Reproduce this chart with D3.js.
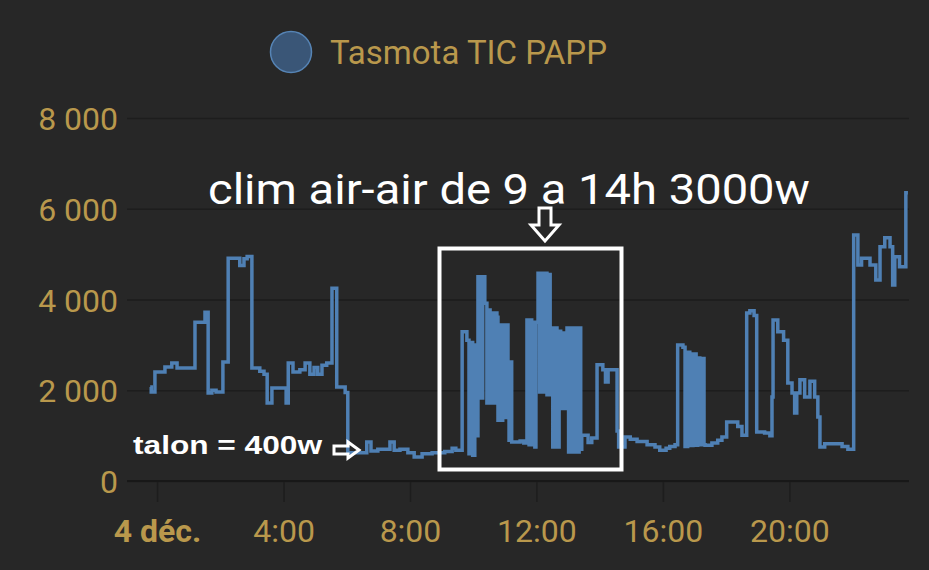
<!DOCTYPE html>
<html>
<head>
<meta charset="utf-8">
<script src="https://cdn.jsdelivr.net/npm/d3@7"></script>
<style>
  html, body { margin: 0; padding: 0; background: #272727; }
  svg { display: block; }
</style>
</head>
<body>
<svg id="chart" width="929" height="570"></svg>
<script>
// ---- Data (minutes from midnight 4 Dec, power in W) ----
const seriesName = "Tasmota TIC PAPP";
const minutes = [
  -13, -11, -4, 15, 28, 38, 72, 91, 97, 104, 112, 125, 135, 157, 165, 171, 180, 195, 203, 209,
  218, 239, 245, 249, 258, 271, 281, 290, 298, 305, 313, 322, 332, 341, 357, 362, 385, 398, 406, 419,
  442, 450, 461, 476, 488, 503, 522, 546, 560, 567,
  579, 588, 592, 596, 599, 603, 607, 609, 613, 615, 617, 618, 622, 626, 628, 632, 634, 637, 641, 645,
  647, 651, 653, 656, 658, 662, 666, 668, 670, 673, 689, 696, 702, 706, 708, 711, 713, 717, 719, 723,
  726, 730, 732, 736, 740, 742, 746, 750, 751, 755, 759, 763, 766, 770, 774, 778, 781, 785, 789, 793,
  797, 801, 804, 806, 818, 825, 835, 846, 851, 856, 863, 873, 876,
  888, 898, 911, 930, 945, 954, 966, 973, 983, 988, 998, 1002, 1007, 1011, 1017, 1023, 1026, 1030, 1034, 1038,
  1040, 1053, 1064, 1072, 1081, 1097, 1102, 1110, 1119, 1125, 1133, 1138, 1153, 1163, 1167, 1169, 1178, 1189, 1197, 1205,
  1210, 1214, 1220, 1229, 1239, 1248, 1254, 1258, 1267, 1286, 1300, 1311, 1322, 1330, 1337, 1353, 1364, 1372, 1381, 1391,
  1396, 1400, 1409, 1421, 1425
];
const values = [
  2070, 1960, 2400, 2510, 2600, 2490, 3500, 3720, 1940, 2000, 1960, 2620, 4910, 4750, 4900, 4950, 2490, 2420, 2350, 1720,
  2050, 2050, 1720, 2600, 2400, 2450, 2600, 2350, 2500, 2350, 2550, 2600, 4250, 2070, 1950, 620, 620, 860, 660, 700,
  860, 680, 700, 620, 530, 600, 620, 650, 720, 680,
  3290, 3100, 600, 3050, 570, 3000, 1000, 4500, 1830, 4500, 1830, 4500, 3920, 1720, 3770, 1720, 3700, 1720, 3700, 3610,
  1340, 3440, 1340, 3440, 1400, 3440, 2620, 900, 2620, 860, 880, 840, 3550, 800, 3550, 800, 3500, 750, 3500, 4580,
  1960, 4580, 1960, 4580, 1900, 4550, 1900, 3370, 750, 3370, 750, 3300, 1600, 3260, 1600, 3370, 640, 3370, 640, 3370,
  640, 3370, 700, 1010, 850, 950, 2560, 2450, 2180, 2450, 2450, 1100, 750,
  970, 920, 870, 800, 750, 680, 720, 760, 800, 3000, 2950, 760, 2840, 780, 2800, 790, 2710, 800, 2700, 800,
  790, 840, 900, 970, 1300, 1300, 1200, 1010, 3700, 3750, 3650, 1080, 1060, 1000, 1850, 3550, 3290, 3100, 2160, 1940,
  1500, 1940, 2230, 1850, 2200, 1850, 1410, 750, 820, 820, 760, 700, 5420, 4760, 4910, 4760, 4430, 5160, 5360, 5160,
  4320, 4940, 4720, 6350, 6350
];
const yTicks = [0, 2000, 4000, 6000, 8000];
const yTickLabels = ["0", "2 000", "4 000", "6 000", "8 000"];
const xTickLabels = ["4 déc.", "4:00", "8:00", "12:00", "16:00", "20:00"];
const annotationTitle = "clim air-air de 9 a 14h 3000w";
const annotationTalon = "talon = 400w";

// ---- Build ----
const day = new Date(2022, 11, 4, 0, 0, 0);
const data = minutes.map((m, i) => ({ t: d3.timeMinute.offset(day, m), v: values[i] }));

const svg = d3.select("#chart");
const W = 929, H = 570;
svg.append("rect").attr("width", W).attr("height", H).attr("fill", "#272727");

const plotL = 127, plotR = 909, plotT = 118, plotB = 481;
const x = d3.scaleTime()
  .domain([d3.timeMinute.offset(day, -57), d3.timeMinute.offset(day, 1427)])
  .range([plotL, plotR]);
const y = d3.scaleLinear().domain([0, 8000]).range([plotB, plotT]);

const gold = "#b9984c";
const gridCol = "#1d1d1d";

// horizontal grid + y labels
const yAxis = d3.axisLeft(y).tickValues(yTicks)
  .tickSize(-(plotR - plotL)).tickPadding(10)
  .tickFormat((d, i) => yTickLabels[i]);
const gy = svg.append("g").attr("transform", `translate(${plotL},0)`).call(yAxis);
gy.select(".domain").remove();
gy.selectAll(".tick line").attr("stroke", gridCol).attr("stroke-width", 1.5);
gy.selectAll(".tick text")
  .attr("fill", gold).attr("font-family", "Roboto, sans-serif").attr("font-size", 32)
  .attr("x", -9).attr("dy", "0.36em");

// vertical grid + x labels
const xTickVals = d3.timeHour.every(4).range(day, d3.timeHour.offset(day, 24));
const xAxis = d3.axisBottom(x).tickValues(xTickVals)
  .tickSize(-(plotB - plotT)).tickPadding(0)
  .tickFormat((d, i) => xTickLabels[i]);
const gx = svg.append("g").attr("transform", `translate(0,${plotB})`).call(xAxis);
gx.select(".domain").remove();
gx.selectAll(".tick line").attr("stroke", gridCol).attr("stroke-width", 1.5).attr("y2", 21);
gx.selectAll(".tick text")
  .attr("fill", gold).attr("font-family", "Roboto, sans-serif").attr("font-size", 32)
  .attr("y", 49).attr("dy", "0.36em")
  .attr("font-weight", (d, i) => i === 0 ? "bold" : "normal");

// zero line darker
svg.append("line").attr("x1", plotL).attr("x2", plotR)
  .attr("y1", y(0)).attr("y2", y(0)).attr("stroke", "#181818").attr("stroke-width", 2);

// series line
const line = d3.line().x(d => x(d.t)).y(d => y(d.v)).curve(d3.curveStepAfter);
svg.append("path").datum(data)
  .attr("d", line).attr("fill", "none")
  .attr("stroke", "#4f80b4").attr("stroke-width", 3.5).attr("stroke-linejoin", "miter");

// legend
svg.append("circle").attr("cx", 291).attr("cy", 52).attr("r", 20.5)
  .attr("fill", "#3a5677").attr("stroke", "#5684b5").attr("stroke-width", 1.5);
svg.append("text").attr("x", 330).attr("y", 52).attr("dy", "0.36em")
  .attr("fill", gold).attr("font-family", "Roboto, sans-serif").attr("font-size", 32.5)
  .attr("textLength", 277).attr("lengthAdjust", "spacingAndGlyphs")
  .text(seriesName);

// annotations
svg.append("text").attr("x", 208).attr("y", 204)
  .attr("fill", "#ffffff").attr("font-family", "Roboto, sans-serif").attr("font-size", 42)
  .attr("textLength", 602).attr("lengthAdjust", "spacingAndGlyphs")
  .text(annotationTitle);

svg.append("rect").attr("x", 439.5).attr("y", 248.5).attr("width", 182).attr("height", 221)
  .attr("fill", "none").attr("stroke", "#ffffff").attr("stroke-width", 4);

// down arrow (outline)
svg.append("path")
  .attr("d", "M539,208 L551,208 L551,225 L559,225 L545,241 L531,225 L539,225 Z")
  .attr("fill", "none").attr("stroke", "#ffffff").attr("stroke-width", 3).attr("stroke-linejoin", "miter");

// talon text and right arrow
svg.append("text").attr("x", 133).attr("y", 454)
  .attr("fill", "#ffffff").attr("font-family", "'Liberation Sans', Arial, sans-serif")
  .attr("font-weight", "bold").attr("font-size", 26)
  .attr("textLength", 189).attr("lengthAdjust", "spacingAndGlyphs")
  .text(annotationTalon);
svg.append("path")
  .attr("d", "M334,446 L348,446 L348,442 L359,450 L348,458 L348,454 L334,454 Z")
  .attr("fill", "none").attr("stroke", "#ffffff").attr("stroke-width", 3).attr("stroke-linejoin", "miter");
</script>
</body>
</html>
